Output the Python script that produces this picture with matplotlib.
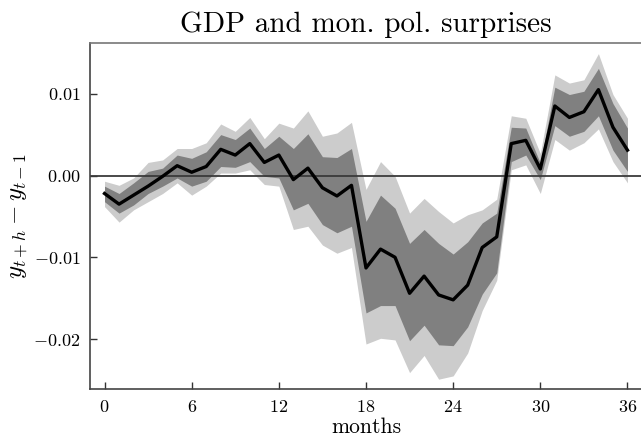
import numpy as np
import matplotlib
matplotlib.use("Agg")
import matplotlib.pyplot as plt

plt.rcParams["font.family"] = "serif"
plt.rcParams["font.serif"] = ["cmr10", "DejaVu Serif"]
plt.rcParams["mathtext.fontset"] = "cm"
plt.rcParams["axes.formatter.use_mathtext"] = True

# Horizon (months) and impulse response of GDP growth
months = np.arange(0, 37)
irf = [-0.0022, -0.0035, -0.0024, -0.0013, -0.0001, 0.0012, 0.0004, 0.0011,
       0.0032, 0.0025, 0.0039, 0.0016, 0.0025, -0.0005, 0.0009, -0.0015,
       -0.0025, -0.0012, -0.0113, -0.0090, -0.0100, -0.0144, -0.0123, -0.0146,
       -0.0152, -0.0134, -0.0088, -0.0075, 0.0039, 0.0043, 0.0008, 0.0085,
       0.0071, 0.0078, 0.0105, 0.0059, 0.0031]

# Inner confidence band
inner_hi = [-0.0013, -0.0022, -0.0009, 0.0005, 0.0009, 0.0025, 0.0021, 0.0029,
            0.0050, 0.0044, 0.0058, 0.0033, 0.0048, 0.0033, 0.0051, 0.0023,
            0.0022, 0.0033, -0.0056, -0.0024, -0.0040, -0.0083, -0.0066, -0.0083,
            -0.0096, -0.0081, -0.0058, -0.0046, 0.0059, 0.0058, 0.0015, 0.0108,
            0.0099, 0.0103, 0.0131, 0.0088, 0.0058]
inner_lo = [-0.0032, -0.0046, -0.0036, -0.0022, -0.0013, -0.0003, -0.0013, -0.0007,
            0.0011, 0.0010, 0.0017, -0.0001, -0.0003, -0.0042, -0.0034, -0.0060,
            -0.0070, -0.0062, -0.0168, -0.0159, -0.0159, -0.0202, -0.0183, -0.0207,
            -0.0208, -0.0185, -0.0145, -0.0119, 0.0017, 0.0025, -0.0005, 0.0061,
            0.0048, 0.0054, 0.0073, 0.0031, 0.0005]

# Outer confidence band
outer_hi = [-0.0007, -0.0012, -0.0003, 0.0016, 0.0019, 0.0033, 0.0033, 0.0040,
            0.0063, 0.0054, 0.0071, 0.0045, 0.0064, 0.0058, 0.0079, 0.0048,
            0.0052, 0.0065, -0.0017, 0.0017, -0.0001, -0.0046, -0.0028, -0.0044,
            -0.0058, -0.0048, -0.0042, -0.0029, 0.0073, 0.0070, 0.0027, 0.0123,
            0.0113, 0.0117, 0.0149, 0.0099, 0.0070]
outer_lo = [-0.0038, -0.0057, -0.0042, -0.0032, -0.0022, -0.0009, -0.0024, -0.0013,
            0.0003, 0.0003, 0.0007, -0.0011, -0.0013, -0.0066, -0.0062, -0.0085,
            -0.0095, -0.0088, -0.0206, -0.0199, -0.0201, -0.0241, -0.0220, -0.0249,
            -0.0245, -0.0217, -0.0165, -0.0128, 0.0007, 0.0013, -0.0022, 0.0044,
            0.0031, 0.0040, 0.0057, 0.0017, -0.0009]

xticks = [0, 6, 12, 18, 24, 30, 36]
yticks = [-0.02, -0.01, 0.0, 0.01]

fig = plt.figure(figsize=(6.41, 4.36), dpi=100)
ax = fig.add_axes([90 / 641, 47 / 436, 552 / 641, 346 / 436])

ax.fill_between(months, outer_lo, outer_hi, color="#cccccc", linewidth=0)
ax.fill_between(months, inner_lo, inner_hi, color="#808080", linewidth=0)
ax.axhline(0, color="#3a3a3a", linewidth=1.3)
ax.plot(months, irf, color="black", linewidth=2.4)

ax.set_xlim(-1, 37)
ax.set_ylim(-0.0261, 0.0162)
ax.set_xticks(xticks)
ax.set_yticks(yticks)
ax.yaxis.set_major_formatter(matplotlib.ticker.FuncFormatter(
    lambda v, p: r"$%.2f$" % v))
ax.tick_params(direction="in", length=5, width=1, labelsize=13,
               colors="#333333", labelcolor="black")
ax.tick_params(axis="x", pad=7)
ax.tick_params(axis="y", pad=7)

for side in ["left", "bottom"]:
    ax.spines[side].set_color("#444444")
    ax.spines[side].set_linewidth(1.2)
ax.spines["top"].set_color("#777777")
ax.spines["top"].set_linewidth(1.2)
ax.spines["right"].set_visible(False)

ax.set_xlabel("months", fontsize=15.5, labelpad=2)
ax.set_ylabel(r"$y_{t+h} - y_{t-1}$", fontsize=18)
ax.yaxis.set_label_coords(-0.108, 0.5)
ax.set_title("GDP and mon. pol. surprises", fontsize=21, pad=8)

fig.savefig("out.png", dpi=100)
